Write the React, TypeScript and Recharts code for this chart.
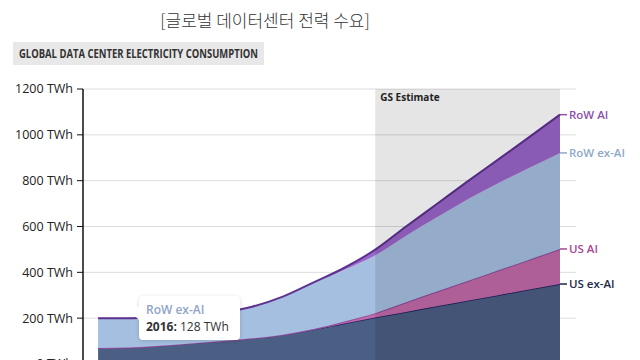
import React from 'react';
import {
    AreaChart,
    Area,
    XAxis,
    YAxis,
    CartesianGrid,
    ReferenceArea,
    LabelList,
} from 'recharts';

// values in TWh
const years = [2015, 2016, 2017, 2018, 2019, 2020, 2021, 2022, 2023, 2024, 2025, 2026, 2027, 2028, 2029, 2030];
const usExAi = [70, 72, 80, 90, 100, 112, 128, 150, 177, 203, 227, 252, 276, 300, 325, 349];
const usAi = [0, 0, 0, 0, 0, 0, 0, 3, 9, 19, 42, 64, 86, 109, 130, 153];
const rowExAi = [130, 128, 125, 122, 125, 138, 165, 200, 226, 253, 291, 324, 357, 381, 401, 419];
const rowAi = [0, 0, 0, 0, 0, 0, 1, 3, 8, 24, 40, 58, 78, 103, 134, 167];
const yTicks = [0, 200, 400, 600, 800, 1000, 1200];
const estimateStart = 2024;

const rows = years.map((year, i) => ({
    year,
    usExAi: usExAi[i],
    usAi: usAi[i],
    rowExAi: rowExAi[i],
    rowAi: rowAi[i],
}));

const LAST = rows.length - 1;

function endLabel(text: string, color: string) {
    return (props: any) => {
        if (props.index !== LAST) return null;
        const x = Number(props.x);
        const y = Number(props.y);
        return (
            <g>
                <line x1={x} y1={y} x2={x + 7} y2={y} stroke={color} strokeWidth={1.5} />
                <text
                    x={x + 9}
                    y={y}
                    dy="0.35em"
                    fill={color}
                    fontSize={11.5}
                    fontWeight={600}
                    fontFamily="'Open Sans', sans-serif"
                >
                    {text}
                </text>
            </g>
        );
    };
}

export default function App() {
    return (
        <div
            style={{
                position: 'absolute',
                left: 0,
                top: 0,
                width: 640,
                height: 360,
                overflow: 'hidden',
                background: '#fff',
                fontFamily: "'Open Sans', sans-serif",
            }}
        >
            <div
                style={{
                    position: 'absolute',
                    left: 155,
                    top: 7,
                    width: 220,
                    textAlign: 'center',
                    fontFamily: "'Noto Sans CJK KR', sans-serif",
                    fontWeight: 300,
                    fontSize: 17,
                    color: '#333',
                }}
            >
                [글로벌 데이터센터 전력 수요]
            </div>

            <svg style={{ position: 'absolute', left: 13, top: 42 }} width={340} height={23}>
                <rect x={0} y={0} width={251} height={23} fill="#e8e8e8" />
                <text
                    x={6}
                    y={16}
                    fontSize={11.5}
                    fontWeight={700}
                    fill="#333"
                    textLength={239}
                    lengthAdjust="spacingAndGlyphs"
                    fontFamily="'Open Sans', sans-serif"
                >
                    GLOBAL DATA CENTER ELECTRICITY CONSUMPTION
                </text>
            </svg>

            <div style={{ position: 'absolute', left: 0, top: 0 }}>
                <AreaChart
                    width={640}
                    height={384}
                    data={rows}
                    margin={{ top: 89, right: 64, left: 0, bottom: 20 }}
                >
                    <CartesianGrid vertical={false} stroke="#dcdcdc" strokeWidth={1} />
                    <XAxis
                        type="number"
                        dataKey="year"
                        domain={[2014.51, 2030.52]}
                        hide
                    />
                    <YAxis
                        type="number"
                        domain={[0, 1200]}
                        ticks={yTicks}
                        width={83}
                        tickSize={6}
                        tickMargin={4}
                        axisLine={{ stroke: '#111', strokeWidth: 1.5 }}
                        tickLine={{ stroke: '#111' }}
                        tick={{ fontSize: 12.5, fill: '#222', fontFamily: "'Open Sans', sans-serif" }}
                        tickFormatter={(v) => `${v} TWh`}
                    />
                    <Area
                        type="monotone"
                        dataKey="usExAi"
                        stackId="a"
                        fill="#4b5e84"
                        fillOpacity={1}
                        stroke="#1c1f5e"
                        strokeWidth={1.5}
                        isAnimationActive={false}
                    >
                        <LabelList dataKey="usExAi" content={endLabel('US ex-AI', '#1e2a4a')} />
                    </Area>
                    <Area
                        type="monotone"
                        dataKey="usAi"
                        stackId="a"
                        fill="#c26aa9"
                        fillOpacity={1}
                        stroke="#8f4c9d"
                        strokeWidth={2}
                        isAnimationActive={false}
                    >
                        <LabelList dataKey="usAi" content={endLabel('US AI', '#a8478f')} />
                    </Area>
                    <Area
                        type="monotone"
                        dataKey="rowExAi"
                        stackId="a"
                        fill="#a5bfe0"
                        fillOpacity={1}
                        stroke="#c3b4e2"
                        strokeWidth={1}
                        isAnimationActive={false}
                    >
                        <LabelList dataKey="rowExAi" content={endLabel('RoW ex-AI', '#8ea9c9')} />
                    </Area>
                    <Area
                        type="monotone"
                        dataKey="rowAi"
                        stackId="a"
                        fill="#9a66c9"
                        fillOpacity={1}
                        stroke="#5d3290"
                        strokeWidth={2}
                        isAnimationActive={false}
                    >
                        <LabelList dataKey="rowAi" content={endLabel('RoW AI', '#8e4fae')} />
                    </Area>
                    <ReferenceArea
                        x1={estimateStart}
                        x2={years[LAST]}
                        y1={0}
                        y2={1200}
                        fill="#000"
                        fillOpacity={0.1}
                        stroke="none"
                        zIndex={150}
                        ifOverflow="visible"
                        label={{
                            value: 'GS Estimate',
                            position: 'insideTopLeft',
                            offset: 5,
                            fontSize: 10,
                            fontWeight: 700,
                            fill: '#222',
                            fontFamily: "'Open Sans', sans-serif",
                        }}
                    />
                </AreaChart>
            </div>

            <div
                style={{
                    position: 'absolute',
                    left: 139,
                    top: 296,
                    width: 101,
                    height: 44,
                    background: '#fff',
                    borderRadius: 4,
                    boxShadow: '0 1px 4px rgba(0,0,0,0.15)',
                    boxSizing: 'border-box',
                    padding: '5px 0 0 7px',
                    lineHeight: '17px',
                }}
            >
                <div
                    style={{
                        position: 'absolute',
                        left: -7,
                        top: 10,
                        width: 0,
                        height: 0,
                        borderTop: '7px solid transparent',
                        borderBottom: '7px solid transparent',
                        borderRight: '7px solid #fff',
                    }}
                />
                <div style={{ color: '#8ea5c8', fontSize: 12, fontWeight: 600 }}>RoW ex-AI</div>
                <div style={{ color: '#333', fontSize: 12 }}>
                    <b>2016:</b> 128 TWh
                </div>
            </div>
        </div>
    );
}
